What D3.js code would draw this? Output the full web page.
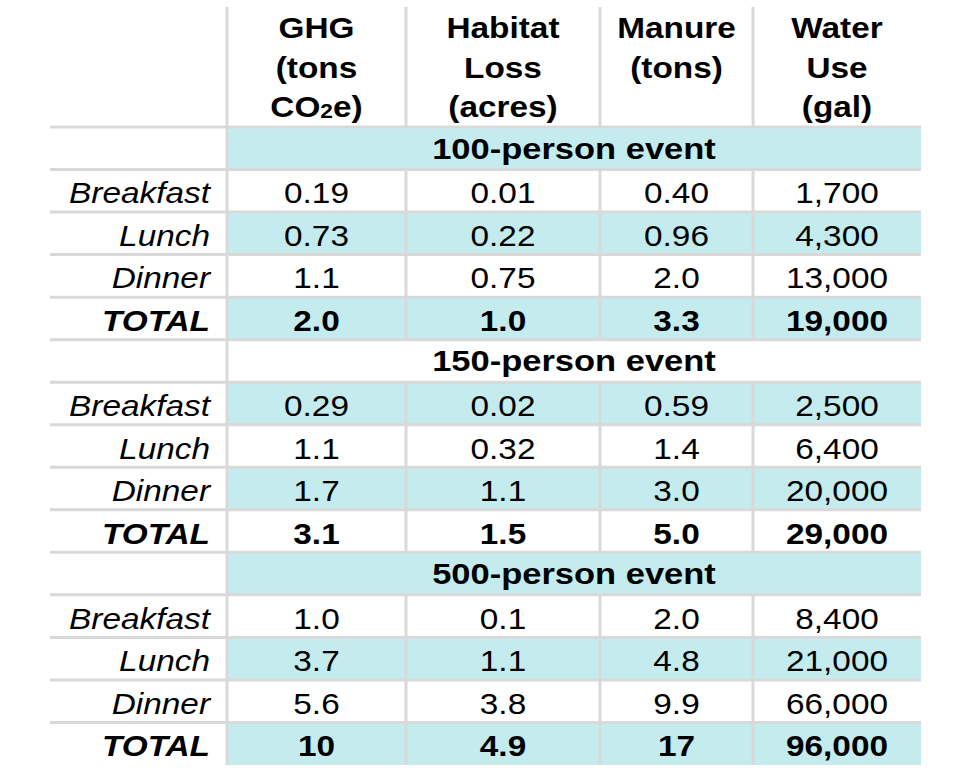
<!DOCTYPE html>
<html>
<head>
<meta charset="utf-8">
<script src="https://cdn.jsdelivr.net/npm/d3@7"></script>
<style>
  html, body { margin: 0; padding: 0; background: #fff; }
  svg { display: block; }
  text { font-family: "Liberation Sans", Arial, sans-serif; fill: #000; }
</style>
</head>
<body>
<svg id="chart" width="964" height="780"></svg>
<script>
// ---------- data ----------
const metricHeaders = [
  ["GHG", "(tons", "CO₂e)"],
  ["Habitat", "Loss", "(acres)"],
  ["Manure", "(tons)"],
  ["Water", "Use", "(gal)"]
];
const events = ["100-person event", "150-person event", "500-person event"];
const meals = ["Breakfast", "Lunch", "Dinner", "TOTAL"];
const ghgValues     = [["0.19", "0.73", "1.1", "2.0"], ["0.29", "1.1", "1.7", "3.1"], ["1.0", "3.7", "5.6", "10"]];
const habitatValues = [["0.01", "0.22", "0.75", "1.0"], ["0.02", "0.32", "1.1", "1.5"], ["0.1", "1.1", "3.8", "4.9"]];
const manureValues  = [["0.40", "0.96", "2.0", "3.3"], ["0.59", "1.4", "3.0", "5.0"], ["2.0", "4.8", "9.9", "17"]];
const waterValues   = [["1,700", "4,300", "13,000", "19,000"], ["2,500", "6,400", "20,000", "29,000"], ["8,400", "21,000", "66,000", "96,000"]];

// ---------- layout ----------
const colWidths = [177, 179, 194, 153, 168];
const tableLeft = 50;
const headerTop = 7, headerBottom = 127, tableBottom = 765;
const fontSize = 29, sectionFontSize = 30, stretch = 1.15;
const cyan = "#c4ecef", gridColor = "#d9d9d9";

const seriesValues = [ghgValues, habitatValues, manureValues, waterValues];

// build row model
const rows = [];
events.forEach((ev, e) => {
  rows.push({ type: "section", label: ev });
  meals.forEach((m, i) => {
    rows.push({ type: m === "TOTAL" ? "total" : "meal", label: m,
      values: seriesValues.map(s => s[e][i]) });
  });
});

const colEdges = [tableLeft];
colWidths.forEach(w => colEdges.push(colEdges[colEdges.length - 1] + w));
const colIds = d3.range(colWidths.length);
const x = d3.scaleOrdinal().domain(colIds).range(colEdges.slice(0, -1));
const xw = d3.scaleOrdinal().domain(colIds).range(colWidths);
const tableRight = colEdges[colEdges.length - 1];

const y = d3.scaleBand().domain(d3.range(rows.length)).range([headerBottom, tableBottom]).padding(0);

const svg = d3.select("#chart");

// backgrounds (banded)
const gBg = svg.append("g");
rows.forEach((r, i) => {
  if (i % 2 === 0) {
    gBg.append("rect")
      .attr("x", x(1)).attr("y", y(i))
      .attr("width", tableRight - x(1)).attr("height", y.bandwidth())
      .attr("fill", cyan);
  }
});

// grid lines
const gGrid = svg.append("g").attr("stroke", gridColor).attr("stroke-width", 3);
d3.range(rows.length).forEach(i => {
  gGrid.append("line").attr("x1", tableLeft).attr("x2", tableRight)
    .attr("y1", y(i)).attr("y2", y(i));
});
gGrid.append("line").attr("x1", x(1)).attr("x2", x(1)).attr("y1", headerTop).attr("y2", tableBottom);
[2, 3, 4].forEach(c => {
  gGrid.append("line").attr("x1", x(c)).attr("x2", x(c)).attr("y1", headerTop).attr("y2", headerBottom);
  rows.forEach((r, i) => {
    if (r.type !== "section") {
      gGrid.append("line").attr("x1", x(c)).attr("x2", x(c))
        .attr("y1", y(i)).attr("y2", y(i) + y.bandwidth());
    }
  });
});

function addText(g, tx, ty, anchor, size) {
  return g.append("text")
    .attr("transform", `translate(${tx},${ty}) scale(${stretch},1)`)
    .attr("text-anchor", anchor)
    .attr("font-size", size || fontSize);
}

// header text
const gHead = svg.append("g");
const headerBaselines = [38, 77.5, 117];
metricHeaders.forEach((lines, k) => {
  const c = k + 1;
  const cx = x(c) + xw(c) / 2;
  lines.forEach((line, j) => {
    const t = addText(gHead, cx, headerBaselines[j], "middle").attr("font-weight", "bold");
    if (line.includes("₂")) {
      const parts = line.split("₂");
      t.append("tspan").text(parts[0]);
      t.append("tspan").attr("font-size", fontSize * 0.68).attr("dy", 1).text("2");
      t.append("tspan").attr("dy", -1).text(parts[1]);
    } else {
      t.text(line);
    }
  });
});

// body text
const gBody = svg.append("g");
rows.forEach((r, i) => {
  const top = y(i), mid = top + y.bandwidth() / 2;
  if (r.type === "section") {
    const cx = (x(1) + tableRight) / 2;
    addText(gBody, cx, mid + 10.5, "middle", sectionFontSize).attr("font-weight", "bold").text(r.label);
  } else {
    const isTotal = r.type === "total";
    addText(gBody, x(1) - 17, mid + 12.5, "end")
      .attr("font-style", "italic")
      .attr("font-weight", isTotal ? "bold" : "normal")
      .text(r.label);
    r.values.forEach((v, k) => {
      const c = k + 1;
      addText(gBody, x(c) + xw(c) / 2, mid + 12.5, "middle")
        .attr("font-weight", isTotal ? "bold" : "normal")
        .text(v);
    });
  }
});
</script>
</body>
</html>
